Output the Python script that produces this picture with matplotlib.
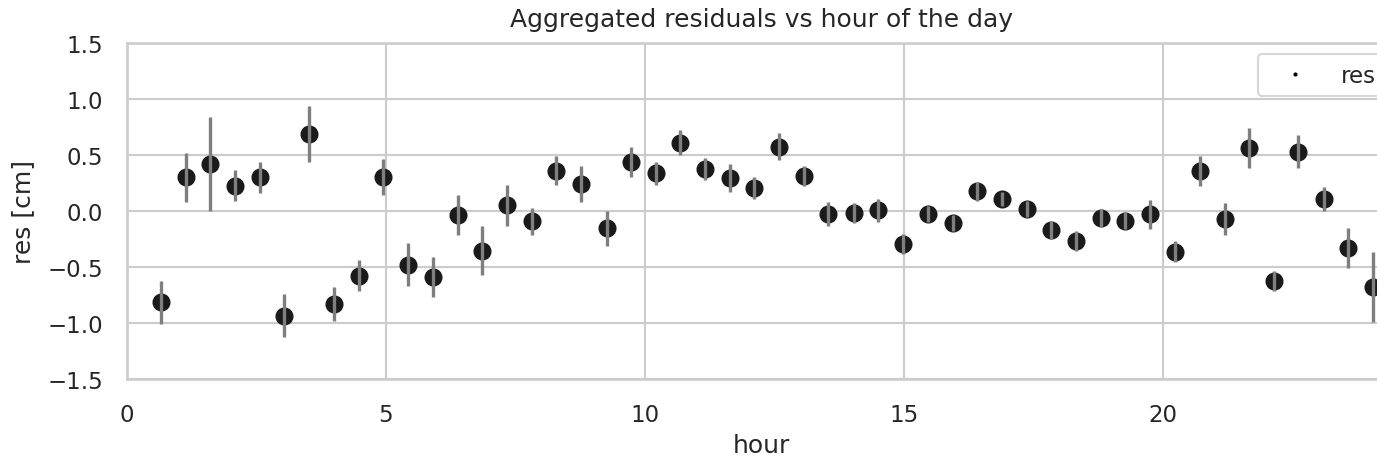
import numpy as np
import matplotlib
matplotlib.use("Agg")
import matplotlib.pyplot as plt
import seaborn as sns
from matplotlib.lines import Line2D

# hour-of-day bin centres, mean residual and its error
hour = [0.65, 1.14, 1.61, 2.08, 2.57, 3.04, 3.52, 3.99, 4.48, 4.95,
        5.42, 5.90, 6.39, 6.86, 7.34, 7.82, 8.29, 8.77, 9.26, 9.73,
        10.21, 10.68, 11.15, 11.64, 12.10, 12.59, 13.07, 13.54, 14.03, 14.50,
        14.98, 15.46, 15.94, 16.41, 16.89, 17.37, 17.84, 18.33, 18.80, 19.27,
        19.75, 20.23, 20.72, 21.19, 21.67, 22.14, 22.61, 23.11, 23.58, 24.06]
res = [-0.815, 0.30, 0.42, 0.226, 0.30, -0.935, 0.69, -0.83, -0.578, 0.30,
       -0.48, -0.59, -0.033, -0.354, 0.05, -0.092, 0.36, 0.244, -0.155, 0.44,
       0.336, 0.61, 0.375, 0.295, 0.208, 0.574, 0.315, -0.027, -0.015, 0.006,
       -0.295, -0.027, -0.107, 0.176, 0.107, 0.018, -0.17, -0.268, -0.06, -0.087,
       -0.03, -0.363, 0.354, -0.071, 0.5625, -0.628, 0.53, 0.107, -0.333, -0.68]
err = [0.19, 0.22, 0.42, 0.14, 0.14, 0.19, 0.25, 0.155, 0.14, 0.16,
       0.19, 0.18, 0.18, 0.22, 0.18, 0.12, 0.13, 0.16, 0.155, 0.135,
       0.10, 0.11, 0.10, 0.125, 0.10, 0.12, 0.09, 0.11, 0.09, 0.10,
       0.09, 0.075, 0.07, 0.085, 0.065, 0.075, 0.08, 0.09, 0.08, 0.075,
       0.13, 0.095, 0.135, 0.14, 0.18, 0.09, 0.15, 0.105, 0.18, 0.315]

sns.set_theme(style="whitegrid", context="talk")

fig = plt.figure(figsize=(13.77, 4.6), dpi=100)
# right edge of the axes falls just outside the picture, as in the original crop
ax = fig.add_axes([0.0922, 0.1739, 0.9216, 0.7304])

ax.plot(hour, res, "o", color="#1a1a1a", ms=12, zorder=2)
ax.errorbar(hour, res, yerr=err, fmt="none", ecolor="#7f7f7f", elinewidth=2.4,
            zorder=3)

ax.set_xlim(0, 24.5)
ax.set_ylim(-1.5, 1.5)
ax.set_yticks(np.arange(-1.5, 1.51, 0.5))
ax.set_xticks([0, 5, 10, 15, 20])
ax.tick_params(pad=8)
ax.set_xlabel("hour", labelpad=5.5)
ax.set_ylabel("res [cm]", labelpad=9)
ax.set_title("Aggregated residuals vs hour of the day", pad=12)

ax.legend(handles=[Line2D([0], [0], ls="none", marker=".", ms=4, color="black",
                          label="res")], loc="upper right", handlelength=2.4)

fig.savefig("out.png", dpi=100)
